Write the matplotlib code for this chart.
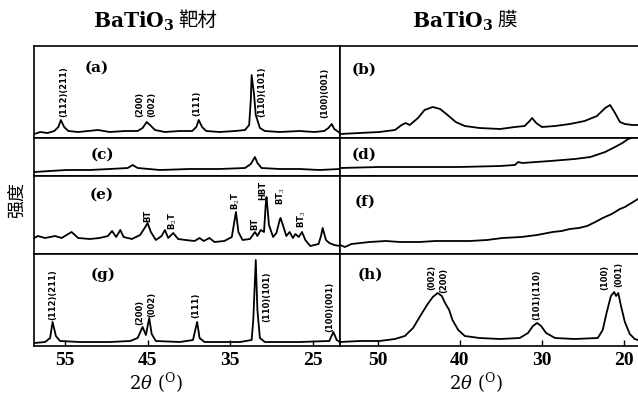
import matplotlib
matplotlib.use('Agg')
import matplotlib.pyplot as plt

plt.rcParams['mathtext.fontset'] = 'dejavuserif'

# ---------------- data (2theta in degrees, intensity in arbitrary units) ----------------
tt_a = [58.7, 58.0, 57.1, 56.3, 55.8, 55.5, 55.1, 54.6, 53.4, 52.2, 51.0, 49.6, 47.7, 46.2, 45.6, 45.1,
        44.7, 44.1, 42.9, 41.1, 39.6, 39.1, 38.8, 38.4, 37.9, 36.3, 34.4, 33.2, 32.7, 32.5, 32.4, 32.1,
        31.9, 31.4, 30.8, 29.0, 26.6, 24.8, 23.6, 23.1, 22.7, 22.4, 21.7]
I_a = [4, 6, 5, 7, 11, 18, 11, 7, 6, 7, 8, 6, 7, 7, 10, 16,
       13, 8, 6, 7, 7, 11, 18, 11, 7, 6, 7, 8, 13, 38, 63, 43,
       23, 10, 7, 6, 7, 6, 7, 10, 14, 9, 5]

tt_b = [54.6, 52.2, 49.8, 47.9, 47.1, 46.6, 46.1, 45.1, 44.3, 43.3, 42.4, 41.5, 40.5, 39.4, 37.6, 35.1,
        33.3, 32.1, 31.5, 31.2, 30.7, 30.0, 28.4, 26.6, 24.8, 23.3, 22.3, 21.7, 21.1, 20.5, 19.9, 19.0, 18.3]
I_b = [4, 5, 6, 8, 13, 15, 13, 20, 28, 31, 29, 23, 16, 12, 10, 9,
       11, 12, 17, 20, 15, 11, 12, 14, 17, 22, 30, 33, 25, 16, 14, 13, 13]

tt_c = [58.7, 56.8, 54.8, 52.0, 49.6, 47.4, 46.8, 46.2, 43.5, 39.9, 36.3, 33.2, 32.5, 32.0, 31.7, 31.2,
        29.0, 26.6, 24.2, 21.7]
I_c = [4, 5, 6, 6, 7, 8, 11, 8, 6, 7, 7, 8, 12, 19, 13, 8,
       7, 7, 6, 7]

tt_d = [54.6, 49.8, 44.9, 40.0, 35.1, 33.3, 32.9, 32.4, 29.0, 26.0, 24.1, 22.3, 21.1, 20.2, 19.5, 18.3]
I_d = [8, 9, 9, 9, 10, 11, 14, 13, 15, 17, 19, 24, 29, 33, 37, 40]

tt_e = [58.7, 58.3, 57.4, 56.2, 55.4, 54.2, 53.4, 52.0, 50.8, 49.8, 49.3, 48.8, 48.3, 47.9, 46.9, 45.9,
        45.2, 45.0, 44.6, 44.0, 43.3, 42.9, 42.5, 41.9, 41.3, 40.4, 39.3, 38.7, 38.2, 37.5, 36.9, 35.7,
        34.8, 34.3, 34.0, 33.5, 32.6, 32.0, 31.7, 31.3, 30.9, 30.7, 30.6, 30.3, 29.8, 29.4, 29.0, 28.9,
        28.5, 28.2, 27.8, 27.4, 27.1, 26.7, 26.3, 25.9, 25.3, 24.8, 24.3, 24.0, 23.8, 23.4, 23.0, 22.4, 21.7]
I_e = [16, 18, 16, 18, 16, 22, 16, 15, 16, 18, 23, 17, 24, 17, 15, 19,
       28, 31, 22, 14, 18, 24, 16, 21, 15, 14, 13, 16, 13, 16, 12, 13,
       17, 42, 22, 14, 15, 22, 18, 24, 22, 49, 57, 29, 17, 21, 34, 36,
       26, 18, 22, 16, 20, 17, 22, 14, 8, 9, 10, 18, 26, 14, 11, 9, 8]

tt_f = [54.6, 54.0, 53.2, 51.0, 49.0, 47.3, 44.9, 43.0, 41.2, 38.8, 36.7, 34.8, 32.5, 30.6, 28.7, 27.6,
        26.6, 25.5, 24.5, 23.5, 22.6, 21.5, 20.5, 19.9, 19.3, 18.3]
I_f = [9, 7, 10, 12, 13, 12, 12, 13, 13, 13, 14, 16, 17, 19, 22, 23,
       25, 26, 28, 32, 36, 40, 45, 47, 50, 55]

tt_g = [58.7, 57.4, 56.8, 56.5, 56.1, 55.6, 53.2, 49.6, 47.1, 46.2, 45.6, 45.2, 44.8, 44.5, 44.0, 41.1,
        39.5, 39.0, 38.7, 38.1, 33.8, 32.4, 32.2, 31.9, 31.7, 31.4, 30.8, 26.6, 23.0, 22.5, 22.1, 21.7]
I_g = [3, 4, 8, 24, 10, 5, 4, 4, 5, 8, 19, 11, 28, 12, 5, 4,
       6, 24, 8, 4, 4, 6, 26, 86, 36, 8, 4, 4, 5, 14, 6, 4]

tt_h = [54.6, 52.2, 49.8, 47.9, 46.7, 45.7, 44.9, 44.0, 43.3, 42.7, 42.2, 41.8, 41.3, 40.9, 40.2, 39.4,
        37.6, 35.1, 32.7, 31.7, 31.1, 30.6, 30.1, 29.5, 28.4, 26.0, 23.2, 22.6, 22.1, 21.6, 21.2, 20.97,
        20.7, 20.4, 19.9, 19.3, 18.7, 18.3]
I_h = [4, 5, 5, 7, 10, 18, 29, 41, 49, 53, 50, 43, 36, 26, 16, 10,
       8, 7, 8, 13, 20, 23, 20, 13, 8, 7, 8, 16, 34, 50, 54, 50,
       53, 41, 24, 12, 7, 6]

# peak annotations: (label, 2theta, intensity at text base)
labels_a = [("(112)(211)", 55.1, 21), ("(200)", 45.9, 21), ("(002)", 44.5, 21),
            ("(111)", 39.0, 22), ("(110)(101)", 31.2, 21), ("(100)(001)", 23.6, 20)]
labels_e = [("BT", 45.0, 32), ("B$_2$T", 41.9, 24), ("B$_2$T", 34.3, 44), ("BT", 32.0, 24),
            ("HBT", 31.1, 54), ("BT$_3$", 28.9, 49), ("BT$_3$", 26.3, 26)]
labels_g = [("(112)(211)", 56.45, 26), ("(200)", 45.9, 21), ("(002)", 44.5, 29),
            ("(111)", 39.2, 28), ("(110)(101)", 30.6, 24), ("(100)(001)", 23.0, 14)]
labels_h = [("(002)", 43.4, 56), ("(200)", 42.0, 53), ("(101)(110)", 30.6, 26),
            ("(100)", 22.3, 56), ("(001)", 20.7, 59)]

ticks_left = [55, 45, 35, 25]
ticks_right = [50, 40, 30, 20]

# ---------------- layout ----------------
W, H = 638, 396
fig = plt.figure(figsize=(W / 100, H / 100), dpi=100)

def add_ax(x0, x1, y0, y1):
    return fig.add_axes([x0 / W, 1 - y1 / H, (x1 - x0) / W, (y1 - y0) / H])

rows = [(46, 138), (138, 176), (176, 254), (254, 346)]
XL = (34, 340)
XR = (340, 638)
left_lim = (58.75, 21.7)
right_lim = (54.6, 18.3)

left_data = [(tt_a, I_a, labels_a), (tt_c, I_c, []), (tt_e, I_e, labels_e), (tt_g, I_g, labels_g)]
right_data = [(tt_b, I_b, []), (tt_d, I_d, []), (tt_f, I_f, []), (tt_h, I_h, labels_h)]

for r, (y0, y1) in enumerate(rows):
    for side, (xx, lim, dat) in enumerate([(XL, left_lim, left_data), (XR, right_lim, right_data)]):
        ax = add_ax(xx[0], xx[1], y0, y1)
        tt, inten, labs = dat[r]
        ax.plot(tt, inten, color='black', lw=1.3)
        ax.set_xlim(*lim)
        ax.set_ylim(0, y1 - y0)
        ax.set_yticks([])
        for s in ax.spines.values():
            s.set_linewidth(1.2)
            s.set_color('black')
        if side == 1:
            ax.spines['right'].set_visible(False)
        for (lab, x, yv) in labs:
            ax.text(x, yv, lab, rotation=90, ha='center', va='bottom', fontsize=6,
                    fontweight='bold', family='DejaVu Sans')
        if r == 3:
            ax.set_xticks(ticks_left if side == 0 else ticks_right)
            ax.tick_params(axis='x', direction='in', length=4, width=1, pad=4, labelsize=14)
            for t in ax.get_xticklabels():
                t.set_fontfamily('Liberation Serif')
                t.set_fontweight('bold')
        else:
            ax.set_xticks([])

# panel letters
panel_pos = {'(a)': (97, 68), '(b)': (364, 70), '(c)': (102, 155), '(d)': (364, 155),
             '(e)': (102, 195), '(f)': (365, 202), '(g)': (103, 275), '(h)': (370, 275)}
for lab, (px, py) in panel_pos.items():
    fig.text(px / W, 1 - py / H, lab, ha='center', va='center', fontsize=11,
             fontweight='bold', family='DejaVu Serif')

# titles
fig.text(174 / W, 1 - 21 / H, r'$\mathbf{BaTiO_3}$', ha='right', va='center', fontsize=14.5)
fig.text(178 / W, 1 - 20 / H, '靶材', ha='left', va='center', fontsize=14, family='Noto Sans CJK SC')
fig.text(493 / W, 1 - 21 / H, r'$\mathbf{BaTiO_3}$', ha='right', va='center', fontsize=14.5)
fig.text(497 / W, 1 - 20 / H, '膜', ha='left', va='center', fontsize=14, family='Noto Sans CJK SC')

# y label
fig.text(17 / W, 1 - 200 / H, '强度', rotation=90, ha='center', va='center', fontsize=13,
         family='Noto Sans CJK SC')

# x labels
for cx in (156, 476):
    fig.text(cx / W, 1 - 383 / H, r'2$\theta$ ($^{\rm O}$)', ha='center', va='center', fontsize=13,
             family='DejaVu Serif')

fig.savefig('out.png', dpi=100)
